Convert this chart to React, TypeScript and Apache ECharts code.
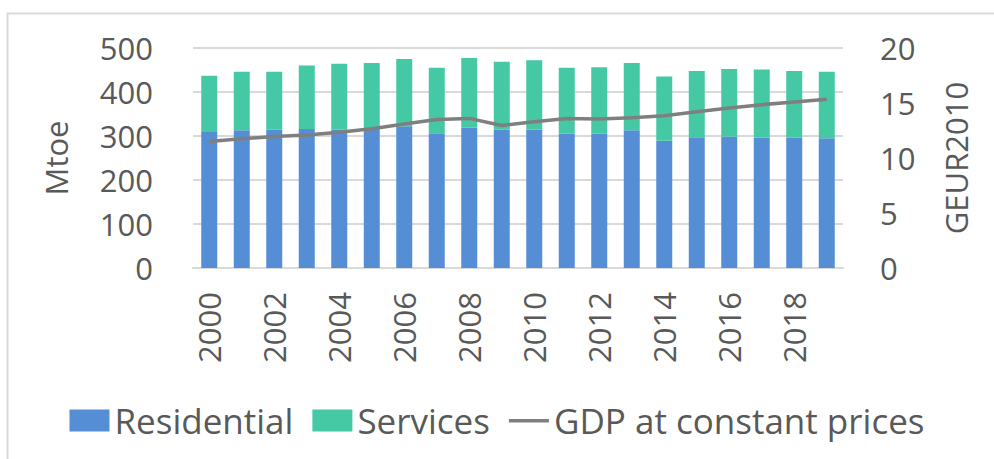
import React, { useEffect, useRef } from "react";
import * as echarts from "echarts";

const years = ["2000","2001","2002","2003","2004","2005","2006","2007","2008","2009","2010","2011","2012","2013","2014","2015","2016","2017","2018","2019"];
const residential = [309, 313, 314, 316, 315, 316, 322, 306, 319, 314, 314, 305, 305, 313, 289, 297, 299, 296, 296, 295];
const services = [128, 133, 132, 144, 149, 150, 153, 149, 158, 155, 158, 150, 151, 153, 146, 151, 153, 155, 152, 151];
const gdp = [11.5, 11.75, 11.95, 12.1, 12.35, 12.65, 13.1, 13.5, 13.6, 12.95, 13.3, 13.6, 13.55, 13.65, 13.85, 14.2, 14.55, 14.85, 15.1, 15.35];
const leftTicks = { min: 0, max: 500, interval: 100 };
const rightTicks = { min: 0, max: 20, interval: 5 };

const FONT = "'Open Sans', sans-serif";
const TXT = "#595959";
const LINE_ICON = "path://M0,0 M40,22 M0,9.5 L40,9.5 L40,13 L0,13 Z";

export default function App() {
  const ref = useRef<HTMLDivElement>(null);
  useEffect(() => {
    if (!ref.current) return;
    const chart = echarts.init(ref.current, null, { renderer: "svg" });
    chart.setOption({
      animation: false,
      backgroundColor: "#ffffff",
      textStyle: { fontFamily: FONT, color: TXT },
      graphic: [
        {
          type: "rect",
          shape: { x: 7.5, y: 13.5, width: 1000, height: 500 },
          style: { fill: "none", stroke: "#d9d9d9", lineWidth: 2 },
          silent: true,
        },
      ],
      grid: { left: 193, right: 151, top: 48, bottom: 191, containLabel: false },
      legend: {
        left: "center",
        top: 398,
        itemWidth: 40,
        itemHeight: 22,
        itemGap: 19,
        textStyle: { fontFamily: FONT, fontSize: 35, color: TXT },
        data: [
          { name: "Residential", icon: "rect" },
          { name: "Services", icon: "rect" },
          { name: "GDP at constant prices", icon: LINE_ICON, itemStyle: { color: "#7f7f7f" } },
        ],
      },
      xAxis: {
        type: "category",
        data: years,
        axisTick: { show: false },
        axisLine: { lineStyle: { color: "#d9d9d9", width: 2 } },
        axisLabel: {
          interval: 1,
          rotate: 90,
          margin: 24,
          fontSize: 31,
          color: TXT,
          fontFamily: FONT,
        },
      },
      yAxis: [
        {
          type: "value",
          ...leftTicks,
          name: "Mtoe",
          nameLocation: "middle",
          nameRotate: 90,
          nameGap: 122,
          nameTextStyle: { fontSize: 31, color: TXT, fontFamily: FONT },
          axisLabel: { fontSize: 31, color: TXT, margin: 40, fontFamily: FONT },
          splitLine: { lineStyle: { color: "#d9d9d9", width: 2 } },
          axisLine: { show: false },
          axisTick: { show: false },
        },
        {
          type: "value",
          ...rightTicks,
          name: "GEUR2010",
          nameLocation: "middle",
          nameRotate: 90,
          nameGap: 97,
          nameTextStyle: { fontSize: 31, color: TXT, fontFamily: FONT },
          axisLabel: { fontSize: 31, color: TXT, margin: 37, fontFamily: FONT },
          splitLine: { show: false },
          axisLine: { show: false },
          axisTick: { show: false },
        },
      ],
      series: [
        {
          name: "Residential",
          type: "bar",
          stack: "total",
          data: residential,
          barWidth: 16,
          itemStyle: { color: "#558ed5" },
        },
        {
          name: "Services",
          type: "bar",
          stack: "total",
          data: services,
          barWidth: 16,
          itemStyle: { color: "#45c9a5" },
        },
        {
          name: "GDP at constant prices",
          type: "line",
          yAxisIndex: 1,
          data: gdp,
          symbol: "none",
          lineStyle: { color: "#7f7f7f", width: 3.5 },
          itemStyle: { color: "#7f7f7f" },
        },
      ],
    });
    return () => chart.dispose();
  }, []);
  return (
    <div
      ref={ref}
      style={{ position: "fixed", left: 0, top: 0, width: 994, height: 459 }}
    />
  );
}
